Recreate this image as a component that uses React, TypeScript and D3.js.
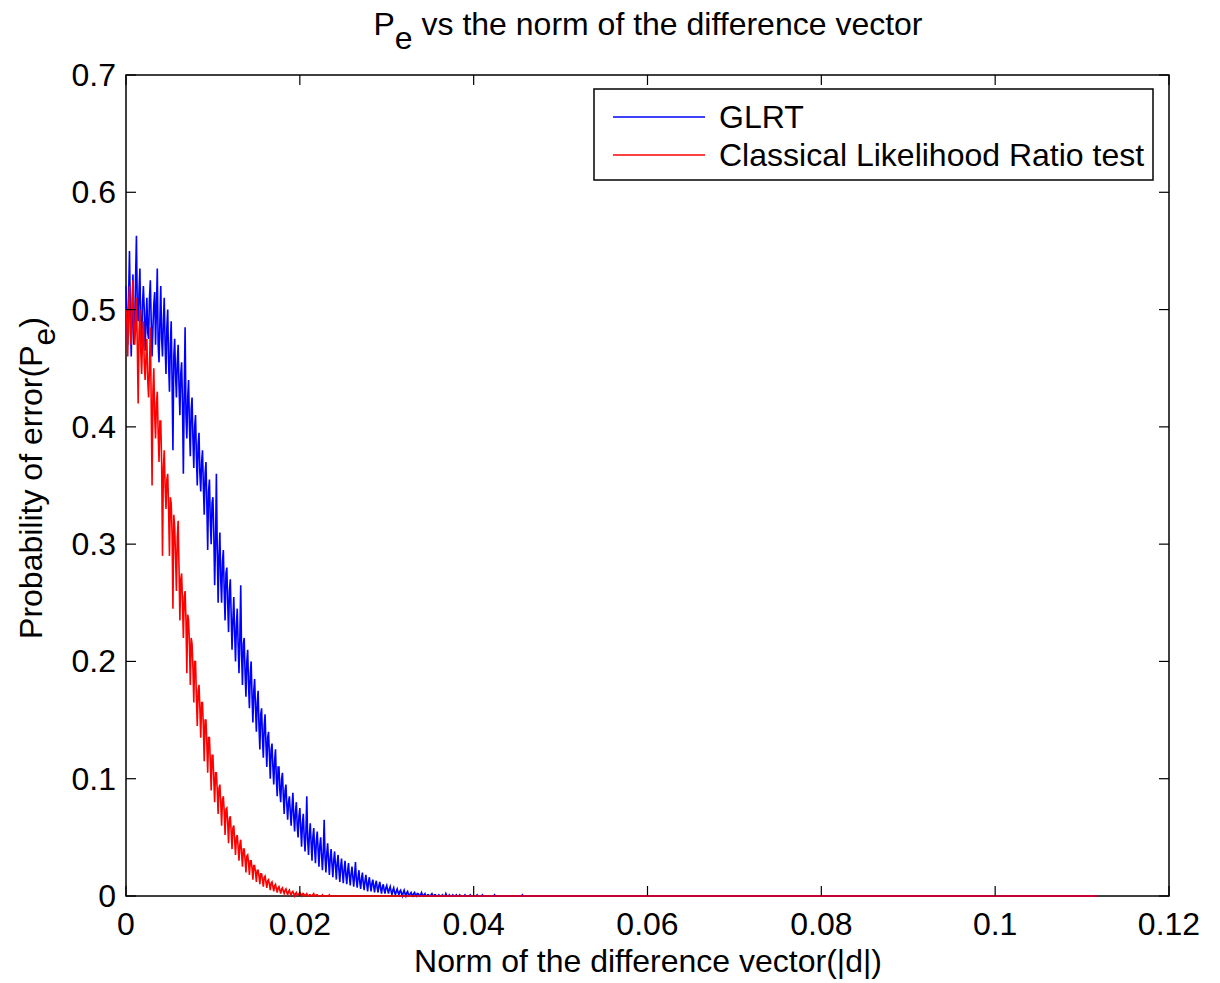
import React from "react";
import * as d3 from "d3";

// x spacing of the simulated points (norm of difference vector)
const X_STEP = 0.0001;
const X_END = 0.1118;

// GLRT probability of error, sampled every X_STEP from 0
const glrtValues = [
  0.52, 0.49, 0.47, 0.51, 0.55, 0.5, 0.46, 0.495, 0.53, 0.47, 0.48, 0.525, 0.563, 0.5, 0.49, 0.515, 0.535, 0.48, 0.47, 0.505,
  0.52, 0.5, 0.465, 0.49, 0.51, 0.48, 0.475, 0.51, 0.525, 0.49, 0.46, 0.485, 0.505, 0.515, 0.47, 0.5, 0.535, 0.47, 0.455, 0.49,
  0.52, 0.475, 0.46, 0.49, 0.51, 0.47, 0.445, 0.485, 0.5, 0.455, 0.43, 0.47, 0.49, 0.44, 0.38, 0.46, 0.475, 0.445, 0.425, 0.455,
  0.47, 0.435, 0.41, 0.445, 0.455, 0.42, 0.36, 0.43, 0.485, 0.41, 0.39, 0.425, 0.44, 0.4, 0.375, 0.415, 0.425, 0.39, 0.365, 0.4,
  0.41, 0.375, 0.35, 0.385, 0.395, 0.36, 0.345, 0.37, 0.38, 0.35, 0.325, 0.36, 0.37, 0.335, 0.295, 0.345, 0.355, 0.32, 0.3, 0.335,
  0.34, 0.31, 0.265, 0.3, 0.36, 0.295, 0.25, 0.29, 0.31, 0.27, 0.25, 0.285, 0.295, 0.26, 0.235, 0.275, 0.28, 0.25, 0.225, 0.26,
  0.27, 0.24, 0.21, 0.235, 0.255, 0.225, 0.2, 0.23, 0.245, 0.215, 0.19, 0.22, 0.265, 0.205, 0.18, 0.215, 0.22, 0.19, 0.17, 0.2,
  0.21, 0.18, 0.16, 0.19, 0.2, 0.17, 0.148, 0.175, 0.185, 0.16, 0.14, 0.165, 0.175, 0.145, 0.125, 0.155, 0.16, 0.135, 0.118, 0.145,
  0.155, 0.13, 0.11, 0.135, 0.14, 0.12, 0.1, 0.125, 0.13, 0.11, 0.095, 0.115, 0.125, 0.1, 0.085, 0.11, 0.11, 0.09, 0.08, 0.1,
  0.105, 0.085, 0.07, 0.09, 0.095, 0.078, 0.065, 0.08, 0.085, 0.072, 0.06, 0.075, 0.088, 0.068, 0.055, 0.072, 0.08, 0.06, 0.05, 0.068,
  0.075, 0.058, 0.042, 0.062, 0.07, 0.05, 0.038, 0.055, 0.085, 0.048, 0.035, 0.052, 0.062, 0.045, 0.03, 0.05, 0.058, 0.04, 0.028, 0.047,
  0.055, 0.04, 0.025, 0.043, 0.05, 0.035, 0.022, 0.038, 0.065, 0.033, 0.02, 0.036, 0.045, 0.03, 0.018, 0.033, 0.04, 0.027, 0.016, 0.03,
  0.038, 0.026, 0.014, 0.028, 0.035, 0.022, 0.012, 0.025, 0.032, 0.02, 0.011, 0.023, 0.03, 0.018, 0.01, 0.021, 0.028, 0.017, 0.009, 0.019,
  0.025, 0.016, 0.008, 0.018, 0.029, 0.014, 0.007, 0.016, 0.022, 0.012, 0.006, 0.015, 0.02, 0.011, 0.005, 0.013, 0.018, 0.01, 0.004, 0.012,
  0.016, 0.009, 0.004, 0.011, 0.014, 0.008, 0.003, 0.01, 0.013, 0.007, 0.003, 0.009, 0.012, 0.006, 0.002, 0.008, 0.01, 0.005, 0.002, 0.007,
  0.009, 0.005, 0.002, 0.006, 0.008, 0.004, 0.001, 0.005, 0.007, 0.003, 0.001, 0.004, 0.006, 0.003, 0.001, 0.004, 0.005, 0.002, 0.0, 0.003,
  0.005, 0.002, 0.0, 0.003, 0.004, 0.001, 0.001, 0.002, 0.003, 0.001, 0.0, 0.002, 0.003, 0.001, 0.0, 0.002, 0.002, 0.001, 0.0, 0.001,
  0.003, 0.001, 0.0, 0.001, 0.002, 0.0, 0.0, 0.001, 0.001, 0.0, 0.0, 0.001, 0.002, 0.0, 0.0, 0.001, 0.001, 0.0, 0.0, 0.0,
  0.001, 0.0, 0.0, 0.0, 0.001, 0.0, 0.0, 0.0, 0.002, 0.0, 0.0, 0.0, 0.001, 0.0, 0.0, 0.0, 0.001, 0.0, 0.0, 0.0,
  0.001, 0.0, 0.0, 0.0, 0.001, 0.0, 0.0, 0.0, 0.0, 0.0, 0.001, 0.0, 0.0, 0.0, 0.0, 0.0, 0.001, 0.0, 0.0, 0.0,
  0.0, 0.0, 0.0, 0.0, 0.001, 0.0, 0.0, 0.0, 0.0, 0.0, 0.001, 0.0, 0.0, 0.0, 0.0, 0.0, 0.0, 0.0, 0.0, 0.0,
  0.0, 0.0, 0.0, 0.0, 0.001, 0.0, 0.0, 0.0, 0.0, 0.0, 0.0, 0.0, 0.0, 0.0, 0.0, 0.0, 0.0, 0.0, 0.0, 0.0,
  0.0, 0.0, 0.0, 0.0, 0.0, 0.0, 0.0, 0.0, 0.0, 0.0, 0.0, 0.0, 0.0, 0.0, 0.0, 0.0, 0.001, 0.0, 0.0, 0.0,
];

// Classical likelihood ratio test probability of error, every X_STEP from 0
const clrtValues = [
  0.5, 0.49, 0.46, 0.5, 0.52, 0.48, 0.47, 0.505, 0.525, 0.49, 0.47, 0.485, 0.51, 0.47, 0.42, 0.48, 0.5, 0.465, 0.445, 0.475,
  0.49, 0.455, 0.44, 0.46, 0.475, 0.44, 0.425, 0.45, 0.485, 0.42, 0.35, 0.43, 0.45, 0.41, 0.39, 0.42, 0.43, 0.395, 0.37, 0.405,
  0.405, 0.37, 0.29, 0.365, 0.38, 0.35, 0.33, 0.355, 0.36, 0.33, 0.29, 0.34, 0.335, 0.31, 0.245, 0.325, 0.315, 0.29, 0.26, 0.305,
  0.32, 0.28, 0.235, 0.27, 0.275, 0.25, 0.22, 0.255, 0.26, 0.235, 0.19, 0.24, 0.235, 0.215, 0.18, 0.22, 0.215, 0.195, 0.165, 0.2,
  0.2, 0.17, 0.145, 0.175, 0.18, 0.16, 0.135, 0.165, 0.165, 0.145, 0.115, 0.15, 0.15, 0.13, 0.105, 0.135, 0.135, 0.115, 0.09, 0.12,
  0.12, 0.1, 0.08, 0.105, 0.105, 0.09, 0.07, 0.092, 0.095, 0.08, 0.06, 0.082, 0.085, 0.072, 0.052, 0.074, 0.075, 0.062, 0.045, 0.066,
  0.068, 0.055, 0.04, 0.058, 0.06, 0.048, 0.035, 0.05, 0.052, 0.042, 0.03, 0.044, 0.048, 0.036, 0.025, 0.04, 0.04, 0.031, 0.02, 0.034,
  0.035, 0.028, 0.018, 0.03, 0.03, 0.024, 0.014, 0.026, 0.026, 0.02, 0.012, 0.022, 0.022, 0.017, 0.01, 0.019, 0.019, 0.014, 0.008, 0.016,
  0.017, 0.012, 0.007, 0.013, 0.014, 0.01, 0.005, 0.011, 0.012, 0.008, 0.004, 0.009, 0.01, 0.006, 0.003, 0.007, 0.008, 0.005, 0.002, 0.006,
  0.007, 0.004, 0.002, 0.005, 0.006, 0.003, 0.001, 0.004, 0.005, 0.002, 0.001, 0.003, 0.004, 0.002, 0.0, 0.002, 0.003, 0.001, 0.001, 0.002,
  0.003, 0.001, 0.0, 0.002, 0.002, 0.001, 0.0, 0.001, 0.002, 0.0, 0.0, 0.001, 0.001, 0.0, 0.0, 0.001, 0.002, 0.0, 0.0, 0.001,
  0.001, 0.0, 0.0, 0.0, 0.0, 0.0, 0.001, 0.0, 0.0, 0.0, 0.0, 0.0, 0.0, 0.0, 0.001, 0.0, 0.0, 0.0, 0.0, 0.0,
  0.0, 0.0, 0.0, 0.0, 0.0, 0.0, 0.0, 0.0, 0.0, 0.0, 0.0, 0.0,
];

const xTicks = [0, 0.02, 0.04, 0.06, 0.08, 0.1, 0.12];
const xTickLabels = ["0", "0.02", "0.04", "0.06", "0.08", "0.1", "0.12"];
const yTicks = [0, 0.1, 0.2, 0.3, 0.4, 0.5, 0.6, 0.7];
const yTickLabels = ["0", "0.1", "0.2", "0.3", "0.4", "0.5", "0.6", "0.7"];
const seriesNames = ["GLRT", "Classical Likelihood Ratio test"];
const seriesColors = ["#0000ff", "#ff0000"];

const W = 1220;
const H = 983;
const L = 126;
const T = 75;
const R = 1169;
const B = 896;
const FONT = "'Liberation Sans', Arial, Helvetica, sans-serif";
const FS = 32;
const TICK = 10;

function toPoints(values: number[]): [number, number][] {
  const pts: [number, number][] = values.map((v, i) => [i * X_STEP, v]);
  pts.push([X_END, 0]);
  return pts;
}

export default function App() {
  const x = d3.scaleLinear().domain([0, 0.12]).range([L, R]);
  const y = d3.scaleLinear().domain([0, 0.7]).range([B, T]);
  const line = d3
    .line<[number, number]>()
    .x((d) => x(d[0]))
    .y((d) => y(d[1]));
  const series = [toPoints(glrtValues), toPoints(clrtValues)];

  return (
    <svg
      width={W}
      height={H}
      style={{ position: "absolute", left: 0, top: 0, display: "block", background: "#fff" }}
      fontFamily={FONT}
    >
      <rect x={0} y={0} width={W} height={H} fill="#fff" />
      <rect x={L} y={T} width={R - L} height={B - T} fill="#fff" stroke="#000" strokeWidth={1.5} />
      {series.map((pts, i) => (
        <path key={i} d={line(pts) || ""} fill="none" stroke={seriesColors[i]} strokeWidth={1.6} strokeLinejoin="miter" />
      ))}
      {xTicks.map((t, i) => (
        <g key={"xt" + i}>
          <line x1={x(t)} x2={x(t)} y1={B} y2={B - TICK} stroke="#000" strokeWidth={1.2} />
          <line x1={x(t)} x2={x(t)} y1={T} y2={T + TICK} stroke="#000" strokeWidth={1.2} />
          <text x={x(t)} y={B + 39} textAnchor="middle" fontSize={FS} fill="#000">
            {xTickLabels[i]}
          </text>
        </g>
      ))}
      {yTicks.map((t, i) => (
        <g key={"yt" + i}>
          <line x1={L} x2={L + TICK} y1={y(t)} y2={y(t)} stroke="#000" strokeWidth={1.2} />
          <line x1={R} x2={R - TICK} y1={y(t)} y2={y(t)} stroke="#000" strokeWidth={1.2} />
          <text x={L - 10} y={y(t) + 11} textAnchor="end" fontSize={FS} fill="#000">
            {yTickLabels[i]}
          </text>
        </g>
      ))}
      {/* title */}
      <text x={648} y={35} textAnchor="middle" fontSize={FS} fill="#000">
        <tspan>P</tspan>
        <tspan dy={14}>e</tspan>
        <tspan dy={-14}> vs the norm of the difference vector</tspan>
      </text>
      {/* x label */}
      <text x={648} y={972} textAnchor="middle" fontSize={FS} fill="#000">
        Norm of the difference vector(|d|)
      </text>
      {/* y label */}
      <text transform="translate(42,478) rotate(-90)" textAnchor="middle" fontSize={FS} fill="#000">
        <tspan>Probability of error(P</tspan>
        <tspan dy={13}>e</tspan>
        <tspan dy={-13}>)</tspan>
      </text>
      {/* legend */}
      <rect x={594} y={89} width={559} height={91} fill="#fff" stroke="#000" strokeWidth={1.5} />
      {seriesNames.map((name, i) => (
        <g key={"lg" + i}>
          <line x1={613} x2={705} y1={117 + i * 38} y2={117 + i * 38} stroke={seriesColors[i]} strokeWidth={1.5} />
          <text x={719} y={128 + i * 38} fontSize={FS} fill="#000">
            {name}
          </text>
        </g>
      ))}
    </svg>
  );
}
